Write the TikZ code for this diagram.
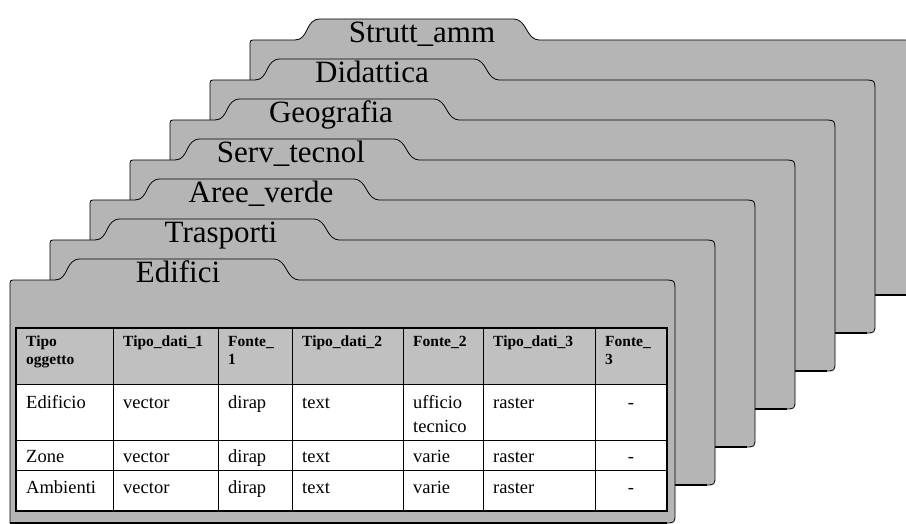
\documentclass[tikz,border=0pt]{standalone}
\usepackage{fontspec}
\setmainfont{Liberation Serif}
\definecolor{foldergray}{RGB}{181,181,181}
\definecolor{headgray}{RGB}{192,192,192}

\begin{document}
\begin{tikzpicture}[x=1pt,y=-1pt,
    folder/.style={fill=foldergray,draw=black,line width=0.8pt},
    tablabel/.style={anchor=base,inner sep=0pt,font=\fontsize{31}{31}\selectfont},
    headcell/.style={anchor=north west,inner sep=0pt,align=left,font=\bfseries\fontsize{15.5}{18}\selectfont},
    datacell/.style={anchor=base west,inner sep=0pt,align=left,font=\fontsize{18.5}{24}\selectfont}]
\useasboundingbox (0,0) rectangle (906,524);

% folders, from the back to the front
\foreach \k/\lab/\cx in {6/Strutt\_amm/422,5/Didattica/372,4/Geografia/331,3/Serv\_tecnol/291,2/Aree\_verde/261,1/Trasporti/221,0/Edifici/178}{
  \pgfmathsetmacro{\xl}{10+40*\k}
  \pgfmathsetmacro{\yt}{280-40*\k}
  \pgfmathsetmacro{\xr}{675+40*\k}
  \pgfmathsetmacro{\yb}{523-38*\k}
  \draw[folder] (\xl,\yb) -- (\xl,\yt+6) .. controls (\xl,\yt) .. (\xl+6,\yt)
    -- (\xl+45,\yt) .. controls (\xl+59,\yt) and (\xl+55,\yt-21) .. (\xl+70,\yt-21)
    -- (\xl+263,\yt-21) .. controls (\xl+278,\yt-21) and (\xl+275,\yt) .. (\xl+290,\yt)
    -- (\xr-12,\yt) .. controls (\xr,\yt) .. (\xr,\yt+12)
    -- (\xr,\yb-10) .. controls (\xr,\yb) .. (\xr-10,\yb) -- cycle;
  \draw[line width=2pt] (\xl,\yb) -- (\xr-8,\yb);
  \node[tablabel] (tab\k) at (\cx,\yt+3) {\lab};
}

% table on the front folder
\fill[headgray] (16,328) rectangle (667,384);
\fill[white] (16,384) rectangle (667,511);
\foreach \x in {113,218,292,403,483,595}
  \draw[line width=0.7pt] (\x,328) -- (\x,511);
\foreach \y in {384,440,470}
  \draw[line width=0.7pt] (16,\y) -- (667,\y);
\draw[line width=2.5pt] (16,328) rectangle (667,511);

\foreach \c/\x/\txt in {1/26/{Tipo\\oggetto},2/123/Tipo\_dati\_1,3/228/{Fonte\_\\1},4/302/Tipo\_dati\_2,5/413/Fonte\_2,6/493/Tipo\_dati\_3,7/605/{Fonte\_\\3}}
  \node[headcell] (head\c) at (\x,336) {\txt};

\foreach \c/\x/\txt in {1/26/Edificio,2/123/vector,3/228/dirap,4/302/text,6/493/raster}
  \node[datacell] (edif\c) at (\x,408) {\txt};
\node[datacell] (edif5) at (413,432) {ufficio\\tecnico};
\node[datacell,anchor=base] (edif7) at (631,408) {-};

\foreach \c/\x/\txt in {1/26/Zone,2/123/vector,3/228/dirap,4/302/text,5/413/varie,6/493/raster}
  \node[datacell] (zone\c) at (\x,462) {\txt};
\node[datacell,anchor=base] (zone7) at (631,462) {-};

\foreach \c/\x/\txt in {1/26/Ambienti,2/123/vector,3/228/dirap,4/302/text,5/413/varie,6/493/raster}
  \node[datacell] (amb\c) at (\x,493) {\txt};
\node[datacell,anchor=base] (amb7) at (631,493) {-};
\end{tikzpicture}
\end{document}
